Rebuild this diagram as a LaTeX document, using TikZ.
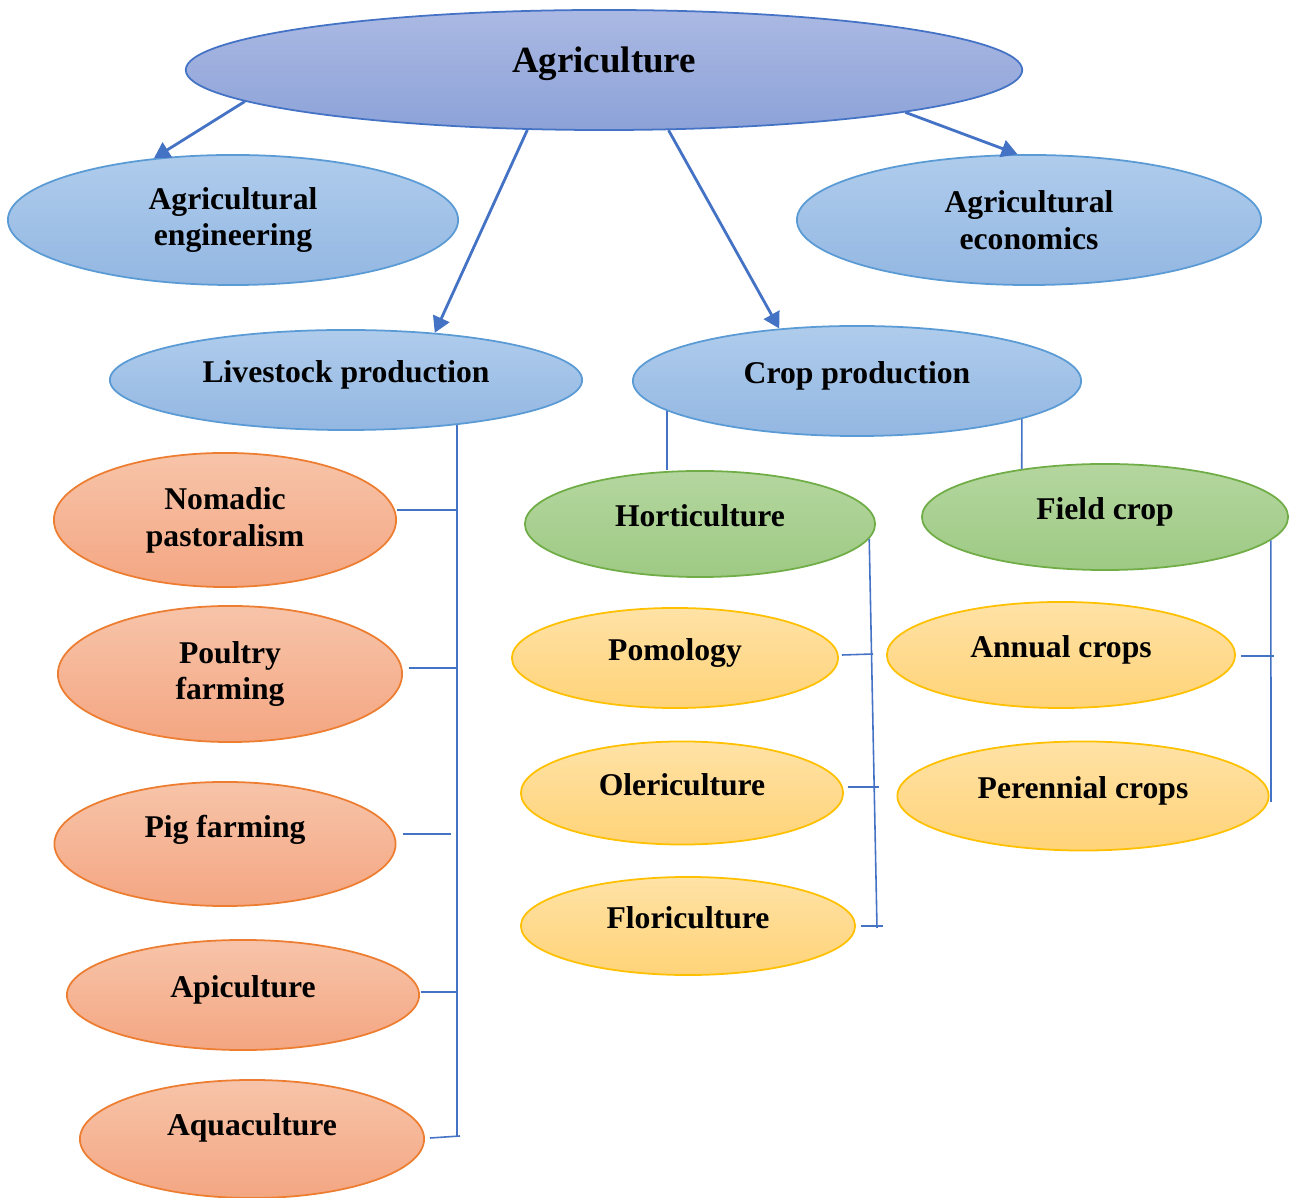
\documentclass[tikz,border=0pt]{standalone}
\usepackage{fontspec}
\setmainfont{Liberation Serif}
\usepackage{tikz}
\usetikzlibrary{shapes.geometric,arrows.meta}
\usepackage{xcolor}
\definecolor{linkblue}{HTML}{4472C4}
\definecolor{rootedge}{HTML}{4472C4}
\definecolor{rootA}{HTML}{ABB9E3}
\definecolor{rootB}{HTML}{8CA2D8}
\definecolor{blueA}{HTML}{AFCCEC}
\definecolor{blueB}{HTML}{93B7E2}
\definecolor{blueedge}{HTML}{5B9BD5}
\definecolor{greenA}{HTML}{B4D69F}
\definecolor{greenB}{HTML}{9ECA84}
\definecolor{greenedge}{HTML}{70AD47}
\definecolor{orangeA}{HTML}{F7C4A9}
\definecolor{orangeB}{HTML}{F4A682}
\definecolor{orangeedge}{HTML}{ED7D31}
\definecolor{yellowA}{HTML}{FFE2A6}
\definecolor{yellowB}{HTML}{FFD378}
\definecolor{yellowedge}{HTML}{FFC000}

\begin{document}
\begin{tikzpicture}[x=0.01cm,y=-0.01cm,
    blob/.style={ellipse, inner sep=0pt, align=center, line width=0.5pt,
      font=\bfseries\fontsize{9}{10.5}\selectfont},
    oneline/.style={text height=6.85pt, text depth=5.15pt},
    rootblob/.style={blob, oneline, top color=rootA, bottom color=rootB, draw=rootedge,
      font=\bfseries\fontsize{10.5}{12}\selectfont},
    blueblob/.style={blob, top color=blueA, bottom color=blueB, draw=blueedge},
    greenblob/.style={blob, oneline, top color=greenA, bottom color=greenB, draw=greenedge},
    orangeblob/.style={blob, top color=orangeA, bottom color=orangeB, draw=orangeedge},
    yellowblob/.style={blob, oneline, top color=yellowA, bottom color=yellowB, draw=yellowedge},
    arr/.style={draw=linkblue, line width=0.8pt, -{Triangle[length=4.5pt,width=5pt]}},
    tie/.style={draw=linkblue, line width=0.45pt}]
	\useasboundingbox (0,0) rectangle (1297,1198);

	\node[rootblob, minimum width=8.36cm, minimum height=1.2cm] (agri) at (604,70) {Agriculture};
	\node[blueblob, minimum width=4.5cm, minimum height=1.3cm] (engg) at (233,220) {Agricultural\\engineering};
	\node[blueblob, minimum width=4.64cm, minimum height=1.3cm] (econ) at (1029,220) {Agricultural\\economics};
	\node[blueblob, oneline, minimum width=4.72cm, minimum height=1.0cm] (live) at (346,380) {Livestock production};
	\node[blueblob, oneline, minimum width=4.48cm, minimum height=1.1cm] (crop) at (857,381) {Crop production};
	\node[greenblob, minimum width=3.5cm, minimum height=1.06cm] (horti) at (700,524) {Horticulture};
	\node[greenblob, minimum width=3.66cm, minimum height=1.06cm] (field) at (1105,517) {Field crop};

	\node[orangeblob, minimum width=3.42cm, minimum height=1.34cm] (nomad) at (225,520) {Nomadic\\pastoralism};
	\node[orangeblob, minimum width=3.44cm, minimum height=1.36cm] (poultry) at (230,674) {Poultry\\farming};
	\node[orangeblob, oneline, minimum width=3.41cm, minimum height=1.24cm] (pig) at (225,844) {\raisebox{2.6pt}{Pig farming}};
	\node[orangeblob, oneline, minimum width=3.52cm, minimum height=1.1cm] (api) at (243,995) {Apiculture};
	\node[orangeblob, oneline, minimum width=3.44cm, minimum height=1.18cm] (aqua) at (252,1139) {\raisebox{1.9pt}{Aquaculture}};

	\node[yellowblob, minimum width=3.26cm, minimum height=1.0cm] (pom) at (675,658) {Pomology};
	\node[yellowblob, minimum width=3.22cm, minimum height=1.03cm] (oleri) at (682,793) {Olericulture};
	\node[yellowblob, minimum width=3.34cm, minimum height=0.98cm] (flori) at (688,926) {Floriculture};
	\node[yellowblob, minimum width=3.48cm, minimum height=1.06cm] (annual) at (1061,655) {Annual crops};
	\node[yellowblob, minimum width=3.71cm, minimum height=1.09cm] (perennial) at (1083,796) {Perennial crops};

	\draw[arr] (agri.185) -- (engg.142);
	\draw[arr] (agri.218) -- (live.28);
	\draw[arr] (agri.317) -- (crop.146);
	\draw[arr] (agri.352.5) -- (econ.100);

	\coordinate (liveEnd) at (455,1137);
	\draw[tie] (live.338) -- (live.338 |- liveEnd);
	\draw[tie] ([shift={(0,-10)}]nomad.east) -- ++(59,0);
	\draw[tie] ([shift={(6,-6)}]poultry.east) -- ++(47,0);
	\draw[tie] ([shift={(7,-10)}]pig.east) -- ++(48,0);
	\draw[tie] ([shift={(1,-3)}]api.east) -- ++(35,0);
	\draw[tie] ([shift={(5,-1)}]aqua.east) -- ++(30,-2);

	\draw[tie] (crop.189) -- (crop.189 |- horti.north);
	\draw[tie] (crop.347) -- (field.150);

	\coordinate (hortiEnd) at (877,928);
	\draw[tie] (horti.355) -- (hortiEnd);
	\draw[tie] ([shift={(3,-3)}]pom.east) -- ++(31,-1);
	\draw[tie] ([shift={(4,-6)}]oleri.east) -- ++(31,0);
	\draw[tie] ([shift={(5,0)}]flori.east) -- ++(22,0);

	\coordinate (fieldEnd) at (1271,802);
	\draw[tie] (field.352) -- (fieldEnd);
	\draw[tie] ([shift={(5,1)}]annual.east) -- ++(33,0);
\end{tikzpicture}
\end{document}
